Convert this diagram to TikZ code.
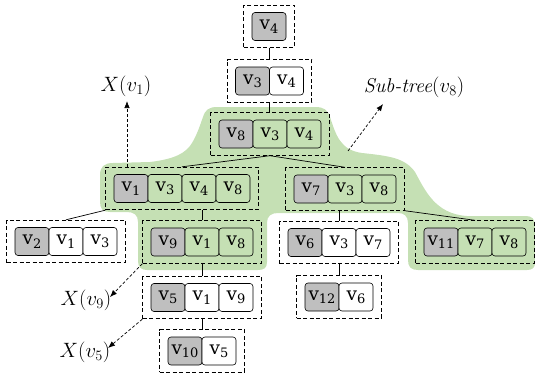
\documentclass[tikz,border=0pt]{standalone}
\usepackage{fontspec}
\newfontfamily\cellfont{DejaVu Serif}
\usetikzlibrary{calc,fit,arrows.meta}

\definecolor{subtree}{RGB}{197,224,180}
\definecolor{headgray}{RGB}{191,191,191}

\tikzset{
  cell/.style={draw=black, line width=0.6pt, rounded corners=3pt,
    minimum width=34pt, minimum height=28pt, inner sep=0pt,
    font=\cellfont\fontsize{18.5}{20}\selectfont},
  dbox/.style={draw=black, dash pattern=on 4pt off 2.5pt, line width=0.8pt,
    inner xsep=8pt, inner ysep=7pt},
  link/.style={line width=0.7pt},
  pointer/.style={line width=0.7pt, dash pattern=on 3pt off 2pt,
    -{Latex[length=7pt,width=5.5pt]}},
  lab/.style={font=\fontsize{20}{23}\selectfont, inner sep=0pt}
}

% vertex name: letter v with a lowered index
\newcommand\vname[1]{v\raisebox{-3.4pt}{\fontsize{13}{13}\selectfont#1}}

% #1 name, #2 number of cells, #3 centre x, #4 centre y,
% #5 fill of the non-head cells, #6 cell indices
\newcommand\cellrow[6]{%
  \foreach \lab [count=\k] in {#6}{%
    \ifnum\k=1 \def\cellfill{headgray}\else\def\cellfill{#5}\fi
    \node[cell, fill=\cellfill] (#1-\k) at ({#3+(\k-(#2+1)/2)*34}, #4) {\vname{\lab}};
  }%
  \node[dbox, fit=(#1-1)(#1-#2)] (#1) {};
}

\begin{document}
\begin{tikzpicture}[x=1pt, y=-1pt]
\useasboundingbox (0,0) rectangle (535,375);

% shaded sub-tree region
\fill[subtree]
  (217,107) -- (315,107)
  .. controls (324,107) and (328,110) .. (330,117)
  .. controls (336,135) and (340,150) .. (362,153)
  .. controls (390,156) and (405,158) .. (415,172)
  .. controls (425,190) and (435,214) .. (467,216)
  -- (526,216)
  .. controls (532,216) and (535,219) .. (535,226)
  -- (535,263)
  .. controls (535,268) and (532,270) .. (527,270)
  -- (418,270)
  .. controls (411,270) and (408,267) .. (408,260)
  -- (408,223)
  .. controls (408,216) and (404,213) .. (398,213)
  -- (278,213)
  .. controls (271,213) and (267,216) .. (267,223)
  -- (267,262)
  .. controls (267,268) and (264,270) .. (258,270)
  -- (147,270)
  .. controls (141,270) and (138,267) .. (138,261)
  -- (138,222)
  .. controls (138,215) and (134,212) .. (127,212)
  -- (110,212)
  .. controls (103,212) and (100,209) .. (100,202)
  -- (100,175)
  .. controls (100,167) and (104,163) .. (113,163)
  -- (150,162)
  .. controls (175,159) and (186,153) .. (192,143)
  .. controls (198,133) and (201,122) .. (203,117)
  .. controls (205,110) and (209,107) .. (217,107) -- cycle;

% vertex groups
\cellrow{A}{1}{269}{26.5}{white}{4}
\cellrow{B}{2}{269.5}{81}{white}{3,4}
\cellrow{C}{3}{270}{134}{subtree}{8,3,4}
\cellrow{D}{4}{182}{188.5}{subtree}{1,3,4,8}
\cellrow{E}{3}{345}{189}{subtree}{7,3,8}
\cellrow{F}{3}{66}{241.5}{white}{2,1,3}
\cellrow{G}{3}{202}{242}{subtree}{9,1,8}
\cellrow{H}{3}{339}{242.5}{white}{6,3,7}
\cellrow{I}{3}{475}{242}{subtree}{11,7,8}
\cellrow{J}{3}{202}{297.5}{white}{5,1,9}
\cellrow{K}{2}{339}{297}{white}{12,6}
\cellrow{L}{2}{202}{351}{white}{10,5}

% tree edges
\draw[link] (A.south) -- (A.south |- B.north);
\draw[link] (B.south) -- (B.south |- C.north);
\draw[link] (C.south) -- (D.north);
\draw[link] (C.south) -- (E.north);
\draw[link] (D.south west) -- (F.north);
\draw[link] (G.north) -- (G.north |- D.south);
\draw[link] (H.north) -- (H.north |- E.south);
\draw[link] (E.south east) -- (I.north);
\draw[link] (G.south) -- (J.north);
\draw[link] (J.south) -- (L.north);
\draw[link] (H.south) -- (K.north);

% labels and pointers
\node[lab] (X1) at (126,86) {$X(v_1)$};
\node[lab] (X9) at (86,300) {$X(v_9)$};
\node[lab] (X5) at (85,352) {$X(v_5)$};
\node[lab] (ST) at (414,87) {\textit{Sub-tree}$(v_8)$};

\coordinate (x1tip) at (127,101);
\coordinate (x9tip) at (110,297);
\coordinate (x5tip) at (108,348);
\coordinate (sttail) at (348,151);
\coordinate (sttip) at (383,104);

\draw[pointer] (D.north -| x1tip) -- (x1tip);
\draw[pointer] (G.south west) -- (x9tip);
\draw[pointer] (J.south west) -- (x5tip);
\draw[pointer] (sttail) -- (sttip);
\end{tikzpicture}
\end{document}
